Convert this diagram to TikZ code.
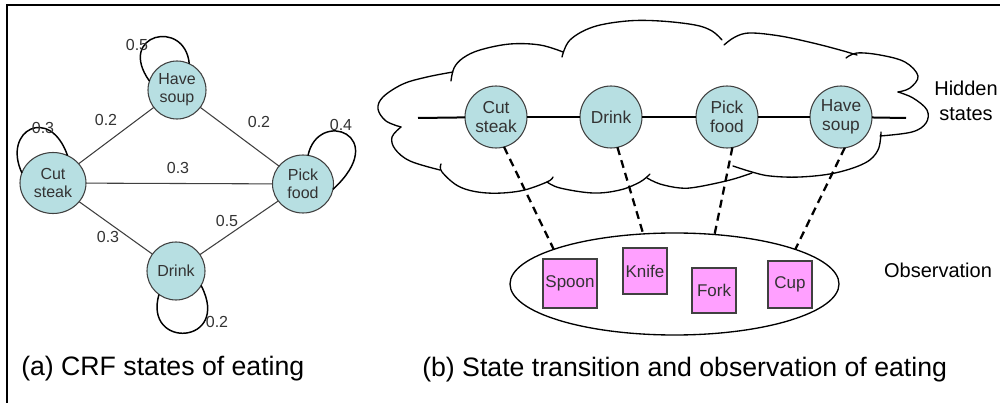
\documentclass[tikz,border=0pt]{standalone}
\usepackage{fontspec}
\setmainfont{Liberation Sans}
\usetikzlibrary{shapes.geometric}
\definecolor{nodefill}{RGB}{183,223,226}
\definecolor{boxfill}{RGB}{255,160,255}
\definecolor{edgegray}{RGB}{64,64,64}
\definecolor{txtgray}{RGB}{51,51,51}
\begin{document}
\begin{tikzpicture}[x=0.75pt,y=-0.75pt,
  statea/.style={ellipse,draw=edgegray,line width=0.8pt,fill=nodefill,inner sep=0pt,outer sep=0pt,align=center,text=txtgray,font=\fontsize{12}{13.5}\selectfont},
  stateb/.style={ellipse,draw=edgegray,line width=0.8pt,fill=nodefill,inner sep=0pt,outer sep=0pt,align=center,text=txtgray,font=\fontsize{13}{14}\selectfont,minimum width=46.5pt,minimum height=46.5pt},
  obsbox/.style={rectangle,draw=edgegray,line width=0.8pt,fill=boxfill,inner sep=0pt,outer sep=0pt,text=txtgray,font=\fontsize{12.75}{14}\selectfont},
  elabel/.style={text=txtgray,font=\fontsize{12}{13}\selectfont,inner sep=0pt},
  edgea/.style={draw=edgegray,line width=0.8pt},
  loopa/.style={draw=black,line width=1.1pt},
  cloudline/.style={draw=black,line width=1pt,line join=round,line cap=round},
  chainline/.style={draw=black,line width=1.5pt},
  dashline/.style={draw=black,line width=1.7pt,dash pattern=on 6pt off 4pt},
  caption/.style={font=\fontsize{20}{22}\selectfont,inner sep=0pt,anchor=base west},
  sidelabel/.style={font=\fontsize{15}{18.75}\selectfont,inner sep=0pt,align=center}
]
\useasboundingbox (0,0) rectangle (1000,403);
\fill[white] (0,0) rectangle (1000,403);
% frame
\draw[line width=1.8pt] (7,403) -- (7,5) -- (1000,5);

% ---------------- panel (a) ----------------
\node[statea,minimum width=43.5pt,minimum height=43.5pt] (hsa) at (177,90) {Have\\soup};
\node[statea,minimum width=49.5pt,minimum height=45.75pt] (csa) at (53,183) {Cut\\steak};
\node[statea,minimum width=45.75pt,minimum height=43.5pt] (pfa) at (303,184) {Pick\\food};
\node[statea,minimum width=43.5pt,minimum height=43.5pt] (dra) at (176,271) {Drink};

\draw[edgea] (csa) -- (hsa);
\draw[edgea] (hsa) -- (pfa);
\draw[edgea] (csa) -- (pfa);
\draw[edgea] (csa) -- (dra);
\draw[edgea] (dra) -- (pfa);

\draw[loopa] (hsa.162) .. controls (116,34) and (185,18) .. (hsa.65);
\draw[loopa] (csa.162) .. controls (2,130) and (50,105) .. (csa.62);
\draw[loopa] (pfa.80) .. controls (318,108) and (392,135) .. (pfa.-10);
\draw[loopa] (dra.234) .. controls (143,350) and (232,345) .. (dra.330);

\node[elabel] (l1) at (106,120) {0.2};
\node[elabel] (l2) at (259,122) {0.2};
\node[elabel] (l3) at (178,168) {0.3};
\node[elabel] (l4) at (108,237) {0.3};
\node[elabel] (l5) at (227,221) {0.5};
\node[elabel] (l6) at (137,45) {0.5};
\node[elabel] (l7) at (43,128) {0.3};
\node[elabel] (l8) at (341,125) {0.4};
\node[elabel] (l9) at (217,322) {0.2};

\node[caption] (capa) at (21,375) {(a) CRF states of eating};

% ---------------- panel (b) ----------------
% cloud
\draw[cloudline] plot[smooth,tension=0.6] coordinates {(401,127) (386,121) (378,109) (383,97) (403,84) (427,77) (453,72)};
\draw[cloudline] plot[smooth,tension=0.6] coordinates {(451,81) (454,68) (463,58) (480,50) (510,44) (540,45) (563,52)};
\draw[cloudline] plot[smooth,tension=0.6] coordinates {(562,57) (570,40) (593,27) (627,21) (660,21) (695,25) (712,31) (722,40)};
\draw[cloudline] plot[smooth,tension=0.6] coordinates {(724,45) (735,37) (750,33) (780,36) (813,43) (840,50) (857,55)};
\draw[cloudline] plot[smooth,tension=0.6] coordinates {(846,58) (857,53) (880,55) (905,62) (918,76) (910,88) (898,92)};
\draw[cloudline] plot[smooth,tension=0.6] coordinates {(898,92) (913,98) (927,110) (926,123) (912,132) (880,136)};
\draw[cloudline] plot[smooth,tension=0.6] coordinates {(881,132) (878,150) (865,163) (835,173) (800,177) (770,176) (752,172) (733,166)};
\draw[cloudline] plot[smooth,tension=0.6] coordinates {(647,178) (660,184) (680,188) (697,187) (730,180) (752,173)};
\draw[cloudline] plot[smooth,tension=0.6] coordinates {(547,182) (560,188) (593,193) (620,190) (640,182) (650,174)};
\draw[cloudline] plot[smooth,tension=0.6] coordinates {(441,164) (442,172) (460,187) (487,193) (520,191) (547,182) (553,177)};
\draw[cloudline] plot[smooth,tension=0.6] coordinates {(440,170) (410,161) (395,149) (392,137) (401,127)};

\node[stateb] (csb) at (496,117) {Cut\\steak};
\node[stateb] (drb) at (611,117) {Drink};
\node[stateb] (pfb) at (727,117) {Pick\\food};
\node[stateb] (hsb) at (841,117) {Have\\soup};
\coordinate (cl) at (418,118);
\coordinate (cr) at (906,118);

\draw[chainline] (cl) -- (csb);
\draw[chainline] (csb) -- (drb);
\draw[chainline] (drb) -- (pfb);
\draw[chainline] (pfb) -- (hsb);
\draw[chainline] (hsb) -- (cr);

\node[sidelabel] (hid) at (966,101) {Hidden\\states};

\node[ellipse,draw=black,line width=1pt,inner sep=0pt,outer sep=0pt,minimum width=246.75pt,minimum height=76.5pt] (obs) at (674.5,284) {};

\draw[dashline] (csb.285) -- (obs.164);
\draw[dashline] (drb.282) -- (obs.122.5);
\draw[dashline] (pfb.280) -- (obs.51.5);
\draw[dashline] (hsb.277) -- (obs.16.4);

\node[obsbox,minimum width=40.5pt,minimum height=36.75pt] (spoon) at (570,283.5) {Spoon};
\node[obsbox,minimum width=33pt,minimum height=34.5pt] (knife) at (645,271) {Knife};
\node[obsbox,minimum width=33pt,minimum height=33.75pt] (fork) at (714,290.5) {Fork};
\node[obsbox,minimum width=33pt,minimum height=35.25pt] (cup) at (790,284.5) {Cup};

\node[sidelabel] (obsl) at (938,270) {Observation};

\node[caption] (capb) at (422,376) {(b) State transition and observation of eating};
\end{tikzpicture}
\end{document}
